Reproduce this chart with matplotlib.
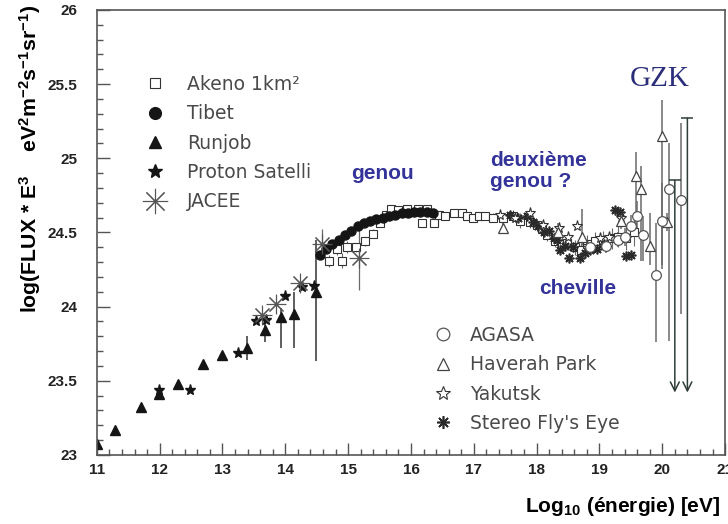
import numpy as np
import matplotlib
matplotlib.use("Agg")
import matplotlib.pyplot as plt
from matplotlib.ticker import MultipleLocator

plt.rcParams['font.family'] = ['Liberation Sans', 'DejaVu Sans']
plt.rcParams['mathtext.fontset'] = 'custom'
plt.rcParams['mathtext.rm'] = 'Liberation Sans:bold'
plt.rcParams['mathtext.it'] = 'Liberation Sans:bold'
plt.rcParams['mathtext.bf'] = 'Liberation Sans:bold'

# --- spectre des rayons cosmiques, log10(E) / log10(flux * E^3) ---
runjob_x = [11.00, 11.29, 11.70, 11.99, 12.29, 12.69, 12.99, 13.39, 13.68, 13.93, 14.14, 14.49]
runjob_y = [23.07, 23.17, 23.32, 23.41, 23.48, 23.61, 23.67, 23.72, 23.84, 23.93, 23.95, 24.10]
runjob_lo = [0, 0, 0, 0, 0, 0, 0, 0.08, 0.08, 0.21, 0.23, 0.47]
runjob_hi = [0, 0, 0, 0, 0, 0, 0, 0.08, 0.04, 0.06, 0.15, 0.35]

proton_x = [11.99, 12.49, 13.24, 13.54, 13.69, 13.99, 14.26, 14.46]
proton_y = [23.44, 23.44, 23.69, 23.90, 23.91, 24.07, 24.13, 24.14]

jacee_x = [13.63, 13.85, 14.23, 14.58, 15.17]
jacee_y = [23.94, 24.02, 24.16, 24.42, 24.33]
jacee_err = [0.0, 0.0, 0.0, 0.10, 0.22]

tibet_x = [14.55, 14.65, 14.75, 14.85, 14.95, 15.05, 15.15, 15.25, 15.35, 15.45,
           15.55, 15.65, 15.75, 15.85, 15.95, 16.05, 16.15, 16.25, 16.35]
tibet_y = [24.35, 24.39, 24.42, 24.45, 24.48, 24.51, 24.54, 24.56, 24.58, 24.59,
           24.60, 24.61, 24.62, 24.63, 24.63, 24.64, 24.64, 24.64, 24.63]

akeno_x = [14.70, 14.82, 14.90, 14.98, 15.13, 15.27, 15.40, 15.50, 15.60, 15.69,
           15.80, 15.93, 16.12, 16.17, 16.25, 16.36, 16.45, 16.54, 16.68, 16.81,
           16.90, 16.99, 17.08, 17.18, 17.31, 17.47, 17.63, 17.74, 17.90, 18.00,
           18.08, 18.16, 18.29, 18.40, 18.48, 18.61, 18.70, 18.80, 18.93, 19.06,
           19.20, 19.30, 19.42, 19.55]
akeno_y = [24.31, 24.39, 24.31, 24.40, 24.40, 24.44, 24.49, 24.56, 24.62, 24.66,
           24.65, 24.66, 24.66, 24.56, 24.66, 24.56, 24.62, 24.61, 24.63, 24.63,
           24.61, 24.60, 24.61, 24.61, 24.60, 24.60, 24.61, 24.58, 24.57, 24.55,
           24.52, 24.48, 24.44, 24.42, 24.43, 24.40, 24.38, 24.42, 24.44, 24.45,
           24.46, 24.47, 24.46, 24.50]
akeno_err = [0.04, 0.04, 0.05, 0.04, 0.03, 0.03, 0.03, 0.02, 0.02, 0.02,
             0.02, 0.02, 0.02, 0.02, 0.02, 0.02, 0.02, 0.02, 0.02, 0.02,
             0.02, 0.02, 0.02, 0.02, 0.03, 0.03, 0.04, 0.05, 0.04, 0.04,
             0.04, 0.04, 0.04, 0.05, 0.05, 0.05, 0.05, 0.06, 0.06, 0.06,
             0.07, 0.07, 0.08, 0.09]

fly_x = [17.58, 17.70, 17.85, 17.95, 18.03, 18.12, 18.19, 18.27, 18.32, 18.37, 18.45,
         18.51, 18.58, 18.69, 18.77, 18.85, 18.96, 19.08, 19.25, 19.33, 19.43, 19.51]
fly_y = [24.62, 24.60, 24.61, 24.57, 24.54, 24.50, 24.51, 24.46, 24.45, 24.38, 24.41,
         24.33, 24.40, 24.33, 24.36, 24.38, 24.39, 24.42, 24.65, 24.64, 24.34, 24.35]

yak_x = [17.42, 17.65, 17.90, 18.10, 18.35, 18.50, 18.64, 18.80, 19.01, 19.15, 19.35]
yak_y = [24.62, 24.60, 24.63, 24.55, 24.53, 24.47, 24.54, 24.41, 24.46, 24.47, 24.60]

hp_x = [17.47, 18.34, 18.72, 19.35, 19.58, 19.66, 19.81, 19.99, 20.07]
hp_y = [24.53, 24.50, 24.47, 24.58, 24.88, 24.79, 24.41, 25.15, 24.57]
hp_lo = [0.03, 0.05, 0.05, 0.06, 0.34, 0.48, 0.13, 0.90, 0.06]
hp_hi = [0.03, 0.06, 0.19, 0.06, 0.16, 0.16, 0.22, 0.24, 0.06]

agasa_x = [18.85, 19.10, 19.30, 19.41, 19.51, 19.59, 19.70, 19.90, 19.99, 20.11, 20.30]
agasa_y = [24.40, 24.41, 24.45, 24.47, 24.54, 24.61, 24.48, 24.21, 24.58, 24.79, 24.72]
agasa_lo = [0.04, 0.05, 0.05, 0.06, 0.08, 0.10, 0.17, 0.45, 0.30, 1.02, 0.77]
agasa_hi = [0.04, 0.05, 0.05, 0.06, 0.08, 0.10, 0.13, 0.35, 0.25, 0.31, 0.52]

# limites superieures AGASA (fleches)
limit_x = [20.20, 20.40]
limit_top = [24.85, 25.27]
limit_tip = 23.42

fig = plt.figure(figsize=(7.28, 5.24), dpi=100)
ax = fig.add_axes([0.133, 0.132, 0.863, 0.849])

ecol = '#6a6a6a'
k = '#151515'

# barres d'erreur
ax.errorbar(runjob_x, runjob_y, yerr=[runjob_lo, runjob_hi], fmt='none', ecolor='#333333', elinewidth=1.1)
ax.errorbar(jacee_x, jacee_y, yerr=jacee_err, fmt='none', ecolor=ecol, elinewidth=0.9)
ax.errorbar(akeno_x, akeno_y, yerr=akeno_err, fmt='none', ecolor=ecol, elinewidth=0.8)
ax.errorbar(hp_x, hp_y, yerr=[hp_lo, hp_hi], fmt='none', ecolor=ecol, elinewidth=1.1)
ax.errorbar(agasa_x, agasa_y, yerr=[agasa_lo, agasa_hi], fmt='none', ecolor=ecol, elinewidth=1.1)

# fleches
for x, top in zip(limit_x, limit_top):
    ax.annotate('', xy=(x, limit_tip), xytext=(x, top),
                arrowprops=dict(arrowstyle='->', color='#2e3d38', lw=1.1,
                                mutation_scale=16, shrinkA=0, shrinkB=0))
ax.plot(limit_x, limit_top, ls='none', marker='_', ms=8, mew=1.1, color='#2e3d38')

# points
h_akeno, = ax.plot(akeno_x, akeno_y, ls='none', marker='s', ms=5.5, mfc='white', mec='#333333', mew=0.8, label='Akeno 1km²')
h_tibet, = ax.plot(tibet_x, tibet_y, ls='none', marker='o', ms=6.5, color=k, label='Tibet')
h_runjob, = ax.plot(runjob_x, runjob_y, ls='none', marker='^', ms=7, color=k, label='Runjob')
h_proton, = ax.plot(proton_x, proton_y, ls='none', marker='*', ms=8, color=k, label='Proton Satelli')
h_jacee, = ax.plot(jacee_x, jacee_y, ls='none', marker=(8, 2, 0), ms=14, mew=0.8, color='#555555', label='JACEE')
h_fly, = ax.plot(fly_x, fly_y, ls='none', marker=(8, 2, 0), ms=7, mew=1.2, color='#2a2a2a', label="Stereo Fly's Eye")
h_yak, = ax.plot(yak_x, yak_y, ls='none', marker='*', ms=8, mfc='white', mec='#333333', mew=0.8, label='Yakutsk')
h_hp, = ax.plot(hp_x, hp_y, ls='none', marker='^', ms=7, mfc='white', mec='#444444', mew=0.9, label='Haverah Park')
h_agasa, = ax.plot(agasa_x, agasa_y, ls='none', marker='o', ms=7, mfc='white', mec='#555555', mew=0.9, label='AGASA')

# axes
ax.set_xlim(11, 21)
ax.set_ylim(23, 26)
ax.xaxis.set_major_locator(MultipleLocator(1))
ax.xaxis.set_minor_locator(MultipleLocator(0.2))
ax.yaxis.set_major_locator(MultipleLocator(0.5))
ax.yaxis.set_minor_locator(MultipleLocator(0.1))
ax.set_yticks([23, 23.5, 24, 24.5, 25, 25.5, 26])
ax.set_yticklabels(['23', '23.5', '24', '24.5', '25', '25.5', '26'])
ax.tick_params(which='both', direction='in', color='#555555', width=1.0,
               top=False, right=False, labelsize=11)
ax.tick_params(which='major', length=9)
ax.tick_params(which='minor', length=4)
ax.tick_params(axis='y', pad=14)
ax.tick_params(axis='x', pad=6)
for lab in ax.get_xticklabels() + ax.get_yticklabels():
    lab.set_fontweight('bold')
    lab.set_color('#222222')
for s in ax.spines.values():
    s.set_color('#555555')
    s.set_linewidth(1.2)

# legendes
leg_font = {'family': 'DejaVu Sans', 'size': 13.5}
leg1 = ax.legend(handles=[h_akeno, h_tibet, h_runjob, h_proton, h_jacee],
                 loc='upper left', bbox_to_anchor=(146 / 728, 1 - 75 / 524),
                 bbox_transform=fig.transFigure, frameon=False, prop=leg_font,
                 handlelength=1.0, handletextpad=1.2, labelspacing=0.55,
                 borderpad=0, borderaxespad=0, markerscale=1.3, labelcolor='#4a4a4a')
ax.add_artist(leg1)
ax.legend(handles=[h_agasa, h_hp, h_yak, h_fly],
          loc='upper left', bbox_to_anchor=(434 / 728, 1 - 326 / 524),
          bbox_transform=fig.transFigure, frameon=False, prop=leg_font,
          handlelength=1.0, handletextpad=0.9, labelspacing=0.55,
          borderpad=0, borderaxespad=0, markerscale=1.3, labelcolor='#4a4a4a')

# annotations
blue = '#33339a'
ax.text(15.55, 24.90, 'genou', color=blue, fontsize=15, fontweight='bold', ha='center', va='center')
ax.text(17.26, 24.915, 'deuxième\ngenou ?', color=blue, fontsize=15, fontweight='bold',
        ha='left', va='center', linespacing=1.1)
ax.text(18.66, 24.125, 'cheville', color=blue, fontsize=15, fontweight='bold', ha='center', va='center')
ax.text(19.965, 25.535, 'GZK', color='#2b2f7a', fontsize=21, family='Liberation Serif',
        ha='center', va='center')

# titres des axes
fig.text(30 / 728, 1 - 159 / 524,
         r'log(FLUX * E$^{3}$    eV$^{2}$m$^{-2}$s$^{-1}$sr$^{-1}$)',
         rotation=90, ha='center', va='center', fontsize=15.3, fontweight='bold')
fig.text(720 / 728, 1 - 506 / 524, r'Log$_{10}$ (énergie) [eV]',
         ha='right', va='center', fontsize=15, fontweight='bold')

fig.savefig('out.png', dpi=100)
